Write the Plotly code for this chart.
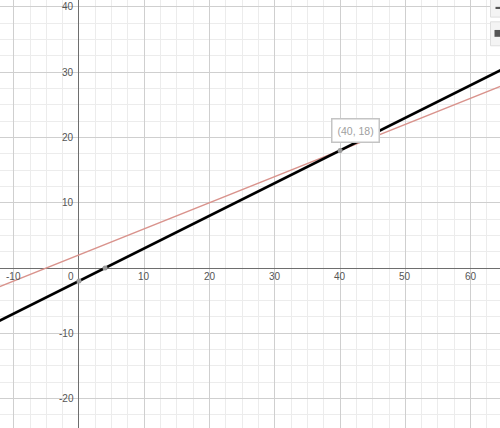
import plotly.graph_objects as go

# lines (x, y pairs at the visible ends and intercepts)
black_x = [-15, 0, 4, 40, 70]
black_y = [-9.5, -2, 0, 18, 33]
red_x = [-15, -5, 0, 40, 70]
red_y = [-4, 0, 2, 18, 30]

# marked points on the black line
point_x = [0, 4, 40]
point_y = [-2, 0, 18]
point_label = "(40, 18)"

x_ticks = [-10, 0, 10, 20, 30, 40, 50, 60]
y_ticks = [-20, -10, 10, 20, 30, 40]

fig = go.Figure()

fig.add_trace(go.Scatter(x=red_x, y=red_y, mode="lines",
                         line=dict(color="#d9938c", width=1.3), hoverinfo="skip"))
fig.add_trace(go.Scatter(x=black_x, y=black_y, mode="lines",
                         line=dict(color="#000000", width=2.6), hoverinfo="skip"))
fig.add_trace(go.Scatter(x=point_x, y=point_y, mode="markers",
                         marker=dict(color="#9a9a9a", size=5), hoverinfo="skip"))

# tick labels drawn next to the axes, Desmos style
annotations = []
for t in x_ticks:
    annotations.append(dict(x=t, y=0, xref="x", yref="y", text=str(t), showarrow=False,
                            xanchor="right" if t == 0 else "center", yanchor="top",
                            xshift=-3 if t == 0 else 0, yshift=-1,
                            font=dict(size=10, color="#555555", family="Liberation Sans")))
for t in y_ticks:
    annotations.append(dict(x=0, y=t, xref="x", yref="y", text=str(t), showarrow=False,
                            xanchor="right", yanchor="middle", xshift=-3,
                            font=dict(size=10, color="#555555", family="Liberation Sans")))

annotations.append(dict(x=point_x[2], y=point_y[2], xref="x", yref="y", text=point_label,
                        showarrow=False, xanchor="left", yanchor="bottom", xshift=-9, yshift=7,
                        bgcolor="white", bordercolor="#c4c4c4", borderwidth=1.5, borderpad=5,
                        font=dict(size=10.5, color="#a0a0a0", family="Liberation Sans")))

# the two clipped control buttons at the top right corner
buttons = [
    dict(type="rect", xref="paper", yref="paper", x0=0.981, x1=1.02, y0=0.960, y1=1.01,
         fillcolor="#f4f4f4", line=dict(color="#dedede", width=1)),
    dict(type="rect", xref="paper", yref="paper", x0=0.981, x1=1.02, y0=0.893, y1=0.949,
         fillcolor="#f4f4f4", line=dict(color="#dedede", width=1)),
    dict(type="rect", xref="paper", yref="paper", x0=0.991, x1=1.0, y0=0.979, y1=0.984,
         fillcolor="#555555", line=dict(width=0)),
    dict(type="rect", xref="paper", yref="paper", x0=0.989, x1=1.0, y0=0.914, y1=0.930,
         fillcolor="#555555", line=dict(width=0)),
]

fig.update_layout(
    width=500, height=428,
    margin=dict(l=0, r=0, t=0, b=0),
    plot_bgcolor="white", paper_bgcolor="white",
    showlegend=False,
    annotations=annotations,
    shapes=buttons,
    xaxis=dict(range=[-12.1, 64.5], dtick=10, tick0=0, showticklabels=False,
               gridcolor="#cfcfcf", gridwidth=1,
               minor=dict(dtick=2.5, tick0=0, gridcolor="#ececec", gridwidth=1, showgrid=True),
               zeroline=True, zerolinecolor="#6e6e6e", zerolinewidth=1.2, fixedrange=True),
    yaxis=dict(range=[-24.5, 41.04], dtick=10, tick0=0, showticklabels=False,
               gridcolor="#cfcfcf", gridwidth=1,
               minor=dict(dtick=2.5, tick0=0, gridcolor="#ececec", gridwidth=1, showgrid=True),
               zeroline=True, zerolinecolor="#6e6e6e", zerolinewidth=1.2, fixedrange=True),
)

fig.write_html("out.html", config={"displayModeBar": False},
               post_script="document.body.style.margin='0px';")
